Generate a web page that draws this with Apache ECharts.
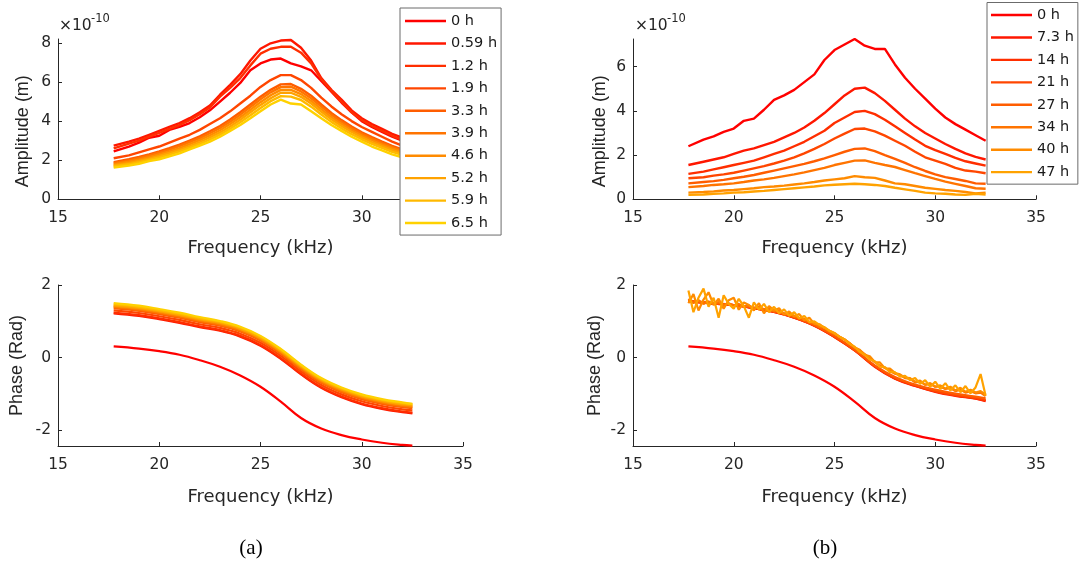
<!DOCTYPE html>
<html><head><meta charset="utf-8">
<script src="https://cdn.jsdelivr.net/npm/echarts@6/dist/echarts.min.js"></script>
<style>html,body{margin:0;padding:0;background:#fff}#c{width:1080px;height:565px}</style>
</head><body><div id="c"></div>
<script>
// ---------- data ----------
const freqTicks = [15, 20, 25, 30, 35];
const ampTicksA = [0, 2, 4, 6, 8];
const ampTicksB = [0, 2, 4, 6];
const phaseTicks = [-2, 0, 2];

const labelsA = ['0 h', '0.59 h', '1.2 h', '1.9 h', '3.3 h', '3.9 h', '4.6 h', '5.2 h', '5.9 h', '6.5 h'];
const labelsB = ['0 h', '7.3 h', '14 h', '21 h', '27 h', '34 h', '40 h', '47 h'];

// frequency grids (kHz)
const freqAmp = [17.75,18.5,19,19.5,20,20.5,21,21.5,22,22.5,23,23.5,24,24.5,25,25.5,26,26.5,27,27.5,28,28.5,29,29.5,30,30.5,31,31.5,32,32.5];
const freqPhase = [17.75,19,20,21,22,23,24,25,26,27,28,29,30,31,32,32.5];
const freqPhaseFine = [17.75,18,18.25,18.5,18.75,19,19.25,19.5,19.75,20,20.25,20.5,20.75,21,21.25,21.5,21.75,22,22.25,22.5,22.75,23,23.25,23.5,23.75,24,24.25,24.5,24.75,25,25.25,25.5,25.75,26,26.25,26.5,26.75,27,27.25,27.5,27.75,28,28.25,28.5,28.75,29,29.25,29.5,29.75,30,30.25,30.5,30.75,31,31.25,31.5,31.75,32,32.25,32.5];

// (a) amplitude, x 1e-10 m
const ampA_0   = [2.45,2.7,2.9,3.15,3.25,3.55,3.7,3.9,4.2,4.55,5.0,5.45,5.95,6.6,6.95,7.15,7.2,6.95,6.8,6.6,6.05,5.5,4.95,4.45,4.0,3.7,3.45,3.2,3.0,2.85];
const ampA_059 = [2.75,2.95,3.1,3.3,3.5,3.7,3.9,4.15,4.45,4.8,5.35,5.85,6.4,7.1,7.7,7.98,8.12,8.15,7.75,7.1,6.2,5.6,5.1,4.55,4.15,3.85,3.6,3.35,3.15,3.0];
const ampA_12  = [2.6,2.85,3.0,3.2,3.4,3.6,3.8,4.05,4.35,4.7,5.25,5.7,6.2,6.85,7.45,7.7,7.8,7.8,7.5,6.95,6.15,5.55,5.0,4.45,4.05,3.75,3.5,3.25,3.05,2.9];
const ampA_19  = [2.1,2.25,2.4,2.55,2.7,2.9,3.1,3.3,3.55,3.85,4.15,4.5,4.9,5.3,5.75,6.1,6.35,6.35,6.1,5.7,5.2,4.75,4.35,4.0,3.7,3.45,3.2,2.95,2.75,2.6];
const ampA_33  = [1.9,2.05,2.17,2.3,2.45,2.62,2.8,3.0,3.22,3.48,3.75,4.08,4.45,4.85,5.25,5.6,5.88,5.9,5.65,5.3,4.85,4.42,4.05,3.72,3.43,3.18,2.95,2.73,2.55,2.42];
const ampA_39  = [1.85,1.98,2.1,2.23,2.38,2.54,2.72,2.92,3.13,3.38,3.65,3.97,4.33,4.72,5.12,5.47,5.74,5.76,5.52,5.17,4.74,4.32,3.95,3.63,3.35,3.1,2.88,2.67,2.49,2.36];
const ampA_46  = [1.78,1.92,2.03,2.15,2.3,2.45,2.62,2.82,3.03,3.27,3.53,3.85,4.2,4.58,4.97,5.32,5.6,5.6,5.38,5.03,4.61,4.2,3.85,3.53,3.26,3.02,2.8,2.6,2.42,2.3];
const ampA_52  = [1.73,1.85,1.96,2.08,2.22,2.37,2.53,2.72,2.93,3.16,3.42,3.72,4.07,4.45,4.83,5.17,5.45,5.45,5.24,4.9,4.49,4.09,3.75,3.44,3.17,2.93,2.72,2.52,2.35,2.23];
const ampA_59  = [1.68,1.79,1.9,2.02,2.14,2.29,2.45,2.64,2.84,3.06,3.31,3.61,3.94,4.3,4.67,5.02,5.28,5.25,5.08,4.74,4.34,3.96,3.63,3.33,3.07,2.84,2.63,2.43,2.27,2.15];
const ampA_65  = [1.62,1.72,1.82,1.95,2.05,2.2,2.35,2.55,2.75,2.95,3.2,3.5,3.8,4.15,4.5,4.85,5.1,4.9,4.85,4.5,4.15,3.8,3.5,3.2,2.95,2.7,2.5,2.3,2.15,2.05];

// (b) amplitude, x 1e-10 m
const ampB_0   = [2.4,2.7,2.85,3.05,3.2,3.55,3.65,4.05,4.5,4.7,4.95,5.3,5.65,6.3,6.75,7.0,7.25,6.95,6.8,6.8,6.1,5.5,5.0,4.55,4.1,3.7,3.4,3.15,2.9,2.65];
const ampB_73  = [1.55,1.7,1.8,1.9,2.05,2.2,2.3,2.45,2.6,2.8,3.0,3.25,3.55,3.9,4.3,4.7,5.0,5.05,4.8,4.45,4.05,3.65,3.3,3.0,2.75,2.5,2.28,2.08,1.92,1.8];
const ampB_14  = [1.15,1.25,1.35,1.45,1.55,1.65,1.75,1.9,2.05,2.2,2.4,2.6,2.85,3.1,3.45,3.7,3.95,4.0,3.85,3.6,3.3,3.0,2.7,2.42,2.22,2.05,1.87,1.72,1.62,1.52];
const ampB_21  = [0.95,1.0,1.07,1.13,1.2,1.3,1.4,1.5,1.62,1.75,1.9,2.08,2.28,2.5,2.75,2.97,3.18,3.2,3.07,2.88,2.65,2.42,2.15,1.9,1.75,1.6,1.42,1.3,1.25,1.18];
const ampB_27  = [0.72,0.78,0.82,0.88,0.95,1.02,1.1,1.2,1.3,1.4,1.5,1.6,1.72,1.85,2.0,2.15,2.28,2.3,2.18,2.0,1.83,1.65,1.45,1.28,1.13,1.0,0.92,0.83,0.72,0.7];
const ampB_34  = [0.55,0.6,0.65,0.68,0.72,0.78,0.85,0.9,0.97,1.05,1.13,1.22,1.32,1.42,1.55,1.65,1.75,1.76,1.65,1.55,1.46,1.32,1.18,1.05,0.92,0.8,0.7,0.6,0.5,0.48];
const ampB_40  = [0.3,0.33,0.36,0.4,0.42,0.46,0.5,0.55,0.58,0.62,0.67,0.72,0.78,0.85,0.9,0.95,1.05,1.0,0.97,0.85,0.72,0.68,0.6,0.52,0.47,0.42,0.38,0.33,0.27,0.3];
const ampB_47  = [0.2,0.22,0.25,0.27,0.3,0.32,0.35,0.38,0.42,0.46,0.5,0.54,0.58,0.63,0.66,0.68,0.7,0.68,0.65,0.6,0.52,0.45,0.38,0.3,0.27,0.25,0.22,0.2,0.25,0.22];

// (a) phase, rad
const phaseA_0   = [0.31,0.25,0.18,0.08,-0.07,-0.25,-0.49,-0.8,-1.21,-1.66,-1.95,-2.13,-2.25,-2.34,-2.4,-2.42];
const phaseA_059 = [1.22,1.15,1.06,0.96,0.84,0.74,0.58,0.33,-0.03,-0.46,-0.83,-1.09,-1.28,-1.41,-1.5,-1.53];
const phaseA_12  = [1.24,1.17,1.08,0.98,0.86,0.76,0.6,0.35,-0.01,-0.44,-0.81,-1.07,-1.26,-1.39,-1.48,-1.51];
const phaseA_19  = [1.3,1.23,1.14,1.04,0.92,0.82,0.66,0.41,0.05,-0.38,-0.75,-1.01,-1.2,-1.33,-1.42,-1.45];
const phaseA_33  = [1.36,1.29,1.2,1.1,0.98,0.88,0.72,0.47,0.11,-0.32,-0.69,-0.95,-1.14,-1.27,-1.36,-1.39];
const phaseA_39  = [1.39,1.32,1.23,1.13,1.01,0.91,0.75,0.5,0.14,-0.29,-0.66,-0.92,-1.11,-1.24,-1.33,-1.36];
const phaseA_46  = [1.42,1.35,1.26,1.16,1.04,0.94,0.78,0.53,0.17,-0.26,-0.63,-0.89,-1.08,-1.21,-1.3,-1.33];
const phaseA_52  = [1.44,1.37,1.28,1.18,1.06,0.96,0.8,0.55,0.19,-0.24,-0.61,-0.87,-1.06,-1.19,-1.28,-1.31];
const phaseA_59  = [1.47,1.4,1.31,1.21,1.09,0.99,0.83,0.58,0.22,-0.21,-0.58,-0.84,-1.03,-1.16,-1.25,-1.28];
const phaseA_65  = [1.5,1.43,1.34,1.24,1.12,1.01,0.85,0.6,0.24,-0.19,-0.56,-0.82,-1.01,-1.14,-1.23,-1.27];

// (b) phase, rad
const phaseB_0   = [0.31,0.25,0.18,0.08,-0.07,-0.25,-0.49,-0.8,-1.21,-1.66,-1.95,-2.13,-2.25,-2.34,-2.4,-2.42];
const phaseB_73  = [1.55,1.49,1.45,1.36,1.26,1.1,0.88,0.57,0.2,-0.25,-0.58,-0.78,-0.94,-1.05,-1.13,-1.2];
const phaseB_14  = [1.55,1.49,1.45,1.36,1.26,1.1,0.88,0.57,0.2,-0.24,-0.57,-0.77,-0.93,-1.04,-1.12,-1.18];
const phaseB_21  = [1.56,1.49,1.45,1.37,1.27,1.11,0.89,0.58,0.21,-0.23,-0.56,-0.76,-0.92,-1.03,-1.11,-1.16];
const phaseB_27  = [1.57,1.5,1.45,1.38,1.28,1.12,0.9,0.6,0.22,-0.21,-0.53,-0.74,-0.88,-0.99,-1.07,-1.12];
const phaseB_34  = [1.62,1.5,1.58,1.48,1.55,1.47,1.53,1.44,1.5,1.43,
  1.48,1.4,1.44,1.36,1.4,1.33,1.35,1.27,1.3,1.22,
  1.2,1.15,1.1,1.07,0.98,0.95,0.85,0.83,0.72,0.66,
  0.58,0.5,0.4,0.28,0.2,0.1,-0.02,-0.12,-0.22,-0.28,
  -0.36,-0.44,-0.48,-0.56,-0.58,-0.68,-0.66,-0.74,-0.72,-0.8,
  -0.8,-0.86,-0.84,-0.92,-0.88,-0.96,-0.92,-0.98,-0.96,-1.06];
const phaseB_40  = [1.5,1.75,1.3,1.6,1.8,1.45,1.62,1.35,1.58,1.65,
  1.32,1.52,1.45,1.3,1.5,1.22,1.42,1.3,1.36,1.18,
  1.27,1.13,1.2,1.03,1.1,0.93,0.92,0.82,0.74,0.68,
  0.57,0.5,0.4,0.28,0.22,0.08,0.04,-0.12,-0.13,-0.29,
  -0.3,-0.42,-0.46,-0.55,-0.56,-0.66,-0.63,-0.75,-0.7,-0.8,
  -0.76,-0.85,-0.8,-0.9,-0.83,-0.94,-0.88,-0.96,-0.92,-1.02];
const phaseB_47  = [1.85,1.25,1.65,1.9,1.4,1.65,1.1,1.72,1.48,1.35,
  1.62,1.42,1.1,1.52,1.32,1.48,1.25,1.4,1.22,1.33,
  1.15,1.25,1.08,1.15,0.98,1.0,0.9,0.84,0.74,0.67,
  0.58,0.5,0.38,0.3,0.16,0.08,-0.05,-0.1,-0.25,-0.26,
  -0.4,-0.4,-0.52,-0.5,-0.62,-0.56,-0.72,-0.62,-0.8,-0.66,
  -0.86,-0.7,-0.9,-0.76,-0.95,-0.78,-0.98,-0.82,-0.45,-1.05];

// ---------- build ----------
const ampA = [ampA_0, ampA_059, ampA_12, ampA_19, ampA_33, ampA_39, ampA_46, ampA_52, ampA_59, ampA_65];
const ampB = [ampB_0, ampB_73, ampB_14, ampB_21, ampB_27, ampB_34, ampB_40, ampB_47];
const phaseA = [phaseA_0, phaseA_059, phaseA_12, phaseA_19, phaseA_33, phaseA_39, phaseA_46, phaseA_52, phaseA_59, phaseA_65];
const phaseB = [
  [freqPhase, phaseB_0], [freqPhase, phaseB_73], [freqPhase, phaseB_14], [freqPhase, phaseB_21],
  [freqPhase, phaseB_27], [freqPhaseFine, phaseB_34], [freqPhaseFine, phaseB_40], [freqPhaseFine, phaseB_47]
];

const colorOf = i => 'rgb(255,' + Math.round(255 * i / 11) + ',0)';
const pairs = (xs, ys) => ys.map((y, i) => [xs[i], y]);
function line(name, xs, ys, color, idx, smooth, width) {
  return {
    type: 'line', name: name, xAxisIndex: idx, yAxisIndex: idx,
    data: pairs(xs, ys), symbol: 'none', showSymbol: false,
    smooth: smooth, lineStyle: { color: color, width: width },
    itemStyle: { color: color }, silent: true, animation: false
  };
}
const series = [];
ampA.forEach((ys, i) => series.push(line(labelsA[i], freqAmp, ys, colorOf(i), 0, false, 2.4)));
ampB.forEach((ys, i) => series.push(line(labelsB[i], freqAmp, ys, colorOf(i), 1, false, 2.4)));
phaseA.forEach((ys, i) => series.push(line(labelsA[i], freqPhase, ys, colorOf(i), 2, 0.4, 2.2)));
phaseB.forEach((p, i) => series.push(line(labelsB[i], p[0], p[1], colorOf(i), 3, p[0] === freqPhase ? 0.4 : false, 2.2)));

const TXT = '#262626';
const tickFont = { fontFamily: 'DejaVu Sans', fontSize: 15.5, color: TXT };
function xAx(idx, name) {
  return {
    type: 'value', gridIndex: idx, min: 15, max: 35,
    name: name, nameLocation: 'middle', nameGap: idx < 2 ? 40 : 42,
    nameTextStyle: { fontFamily: 'DejaVu Sans', fontSize: 18, color: TXT },
    axisLine: { show: true, onZero: false, lineStyle: { color: TXT, width: 1 } },
    axisTick: { show: true, inside: true, length: 4, customValues: freqTicks, lineStyle: { color: TXT } },
    axisLabel: Object.assign({ margin: 11, customValues: freqTicks }, tickFont),
    splitLine: { show: false }
  };
}
function yAx(idx, name, min, max, ticks, gap, pad) {
  return {
    type: 'value', gridIndex: idx, min: min, max: max,
    name: name, nameLocation: 'middle', nameGap: gap,
    nameTextStyle: { fontFamily: 'Liberation Sans', fontSize: 18, color: TXT, padding: pad },
    axisLine: { show: true, onZero: false, lineStyle: { color: TXT, width: 1 } },
    axisTick: { show: true, inside: true, length: 4, customValues: ticks, lineStyle: { color: TXT } },
    axisLabel: Object.assign({ margin: 7, customValues: ticks }, tickFont),
    splitLine: { show: false }
  };
}
const legendBase = {
  orient: 'vertical', icon: 'rect', itemWidth: 41, itemHeight: 2.4, itemGap: 6.45,
  borderColor: '#6b6b6b', borderWidth: 1, borderRadius: 0, backgroundColor: '#fff',
  textStyle: { fontFamily: 'DejaVu Sans', fontSize: 14.5, color: '#1a1a1a', lineHeight: 16 },
  selectedMode: false, z: 10
};

const option = {
  animation: false,
  backgroundColor: '#fff',
  grid: [
    { left: 58, top: 39, width: 405, height: 160.3 },
    { left: 633, top: 39, width: 403, height: 160.3 },
    { left: 58, top: 285, width: 405, height: 161 },
    { left: 633, top: 285, width: 403, height: 161 }
  ],
  xAxis: [xAx(0, 'Frequency (kHz)'), xAx(1, 'Frequency (kHz)'), xAx(2, 'Frequency (kHz)'), xAx(3, 'Frequency (kHz)')],
  yAxis: [
    yAx(0, 'Amplitude (m)', 0, 8.2, ampTicksA, 26, [0, 24, 0, 0]),
    yAx(1, 'Amplitude (m)', 0, 7.25, ampTicksB, 24, [0, 24, 0, 0]),
    yAx(2, 'Phase (Rad)', -2.43, 2, phaseTicks, 32, 0),
    yAx(3, 'Phase (Rad)', -2.43, 2, phaseTicks, 29, 0)
  ],
  legend: [
    Object.assign({}, legendBase, { data: labelsA, left: 400, top: 8, padding: [5, 4, 4, 5] }),
    Object.assign({}, legendBase, { data: labelsB, left: 987, top: 2.5, padding: [4.5, 4, 4, 4] })
  ],
  graphic: [
    { type: 'text', x: 59, y: 18, style: { text: '×10', font: '15.5px "DejaVu Sans"', fill: TXT, verticalAlign: 'top' } },
    { type: 'text', x: 91, y: 13, style: { text: '-10', font: '11.5px "DejaVu Sans"', fill: TXT, verticalAlign: 'top' } },
    { type: 'text', x: 635, y: 18, style: { text: '×10', font: '15.5px "DejaVu Sans"', fill: TXT, verticalAlign: 'top' } },
    { type: 'text', x: 667, y: 13, style: { text: '-10', font: '11.5px "DejaVu Sans"', fill: TXT, verticalAlign: 'top' } },
    { type: 'text', x: 251, y: 548, style: { text: '(a)', font: '21px "Liberation Serif"', fill: '#000', align: 'center', verticalAlign: 'middle' } },
    { type: 'text', x: 825, y: 548, style: { text: '(b)', font: '21px "Liberation Serif"', fill: '#000', align: 'center', verticalAlign: 'middle' } }
  ],
  series: series
};
const chart = echarts.init(document.getElementById('c'), null, { renderer: 'canvas' });
chart.setOption(option);
</script>
</body></html>
